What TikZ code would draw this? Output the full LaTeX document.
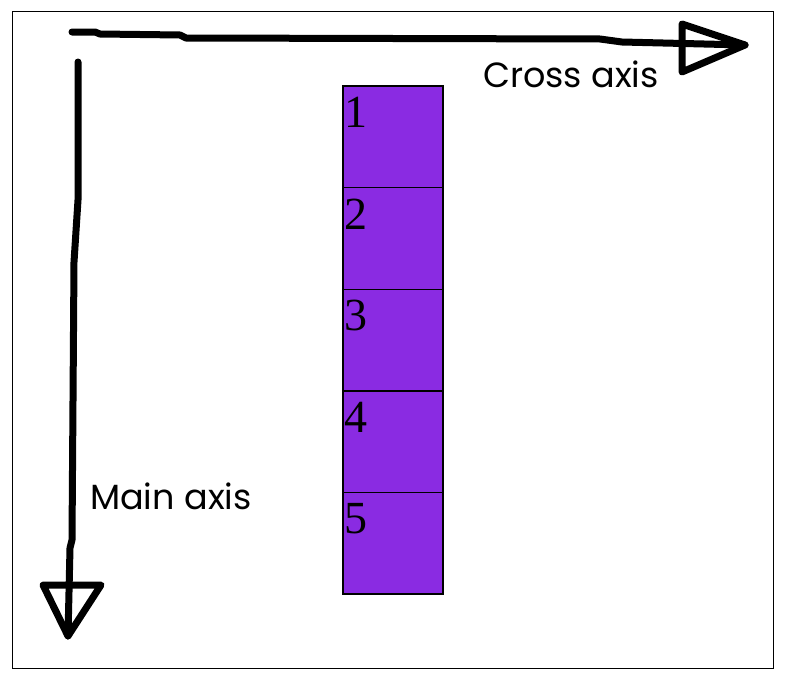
\documentclass[tikz,border=0pt]{standalone}
\usepackage{fontspec}
\setmainfont{Liberation Serif}
\newfontfamily\handfont{Poppins}
\usetikzlibrary{positioning}
\definecolor{cellpurple}{HTML}{8A2BE2}

\begin{document}
\begin{tikzpicture}[x=1pt, y=-1pt,
    cell/.style={fill=cellpurple,
        minimum width=100pt, minimum height=101.6pt, inner sep=0pt, outer sep=0pt},
    num/.style={anchor=north west, inner sep=0pt, font=\fontsize{46}{46}\selectfont},
    axis/.style={line width=7pt, line cap=round, line join=round},
    axislabel/.style={anchor=base west, inner sep=0pt, font=\handfont\fontsize{35}{35}\selectfont}]

        % Page size and frame
        \useasboundingbox (0,0) rectangle (786,680);
        \draw[line width=1pt] (12,11) rectangle (773,668);

        % Stack of items along the main axis
        \node[cell] (cell1) at (393,136.8) {};
        \foreach \i [evaluate=\i as \j using int(\i-1)] in {2,...,5} {
            \node[cell, below=0pt of cell\j] (cell\i) {};
        }
        \foreach \i in {1,...,5} {
            \draw[line width=1.4pt] (cell\i.north west) rectangle (cell\i.south east);
            \node[num] (num\i) at ([shift={(1,11)}]cell\i.north west) {\i};
        }

        % Cross axis (hand drawn)
        \coordinate (crossstart) at (72,32);
        \coordinate (crosstip) at (745,45);
        \draw[axis] (crossstart) -- (95,32) -- (100,34) -- (180,35) -- (186,38)
            -- (600,39) -- (622,42) -- (crosstip);
        \draw[axis] (682,24) -- (crosstip) -- (682,72) -- cycle;
        \node[axislabel] (crosslabel) at (483,87) {Cross axis};

        % Main axis (hand drawn)
        \coordinate (mainstart) at (78,62);
        \coordinate (maintip) at (68,636);
        \draw[axis] (mainstart) -- (78,200) -- (74,262) -- (72,540) -- (70,548)
            -- (maintip);
        \draw[axis] (43,585) -- (101,585) -- (maintip) -- cycle;
        \node[axislabel] (mainlabel) at (90,509) {Main axis};

\end{tikzpicture}
\end{document}
